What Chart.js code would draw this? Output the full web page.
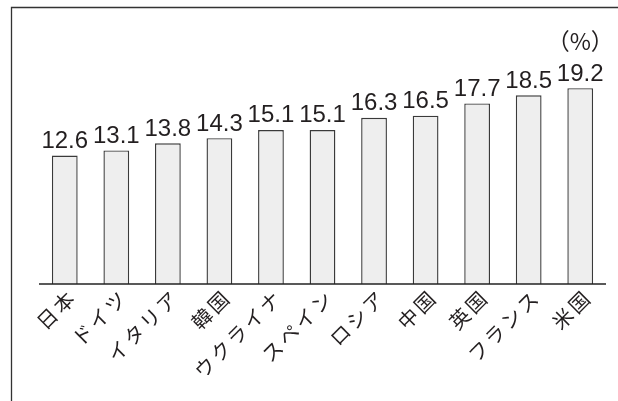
<!DOCTYPE html>
<html lang="ja">
<head>
  <meta charset="UTF-8">
  <title>Bar chart</title>
  <style>
    body { margin: 0; background: #fff; }
    .wrap { width: 618px; height: 401px; }
  </style>
</head>
<body>
  <div class="wrap">
    <canvas id="barChart" width="618" height="401"></canvas>
  </div>

  <script src="https://cdn.jsdelivr.net/npm/chart.js"></script>
  <script>
    // data
    const countries = ['日本', 'ドイツ', 'イタリア', '韓国', 'ウクライナ', 'スペイン', 'ロシア', '中国', '英国', 'フランス', '米国'];
    const values = [12.6, 13.1, 13.8, 14.3, 15.1, 15.1, 16.3, 16.5, 17.7, 18.5, 19.2];
    const unitLabel = '（%）';

    const textColor = '#231f20';

    // frame, baseline, value labels and rotated country names
    const decorations = {
      id: 'decorations',
      afterDraw(chart) {
        const c = chart.ctx;
        const xs = chart.scales.x;
        const ys = chart.scales.y;
        const area = chart.chartArea;

        c.save();
        // outer frame (left + top only)
        c.strokeStyle = '#333';
        c.lineWidth = 1.3;
        c.beginPath();
        c.moveTo(11.5, 401);
        c.lineTo(11.5, 7.5);
        c.lineTo(618, 7.5);
        c.stroke();

        // baseline
        const y0 = ys.getPixelForValue(0);
        c.strokeStyle = '#222';
        c.lineWidth = 1.5;
        c.beginPath();
        c.moveTo(area.left, y0);
        c.lineTo(area.right, y0);
        c.stroke();

        // values above bars
        c.fillStyle = textColor;
        c.font = '24px "Liberation Sans", Arial, sans-serif';
        c.textAlign = 'center';
        c.textBaseline = 'alphabetic';
        values.forEach((v, i) => {
          c.fillText(v.toFixed(1), xs.getPixelForValue(i), ys.getPixelForValue(v) - 7.5);
        });

        // unit
        c.font = '23px "Noto Sans CJK JP", sans-serif';
        c.fillText(unitLabel, xs.getPixelForValue(values.length - 1), 50);

        // country names, 45 degrees
        c.font = '20px "Noto Sans CJK JP", sans-serif';
        c.textAlign = 'right';
        c.textBaseline = 'middle';
        c.letterSpacing = '3px';
        countries.forEach((name, i) => {
          c.save();
          c.translate(xs.getPixelForValue(i) + 8, y0 + 9);
          c.rotate(-Math.PI / 4);
          c.fillText(name, 0, 0);
          c.restore();
        });
        c.restore();
      }
    };

    const ctx = document.getElementById('barChart').getContext('2d');
    const barChart = new Chart(ctx, {
      type: 'bar',
      data: {
        labels: countries,
        datasets: [{
          data: values,
          backgroundColor: '#eeeeee',
          borderColor: '#3a3a3a',
          borderWidth: 1.4,
          borderSkipped: 'bottom',
          barPercentage: 0.5,
          categoryPercentage: 1
        }]
      },
      options: {
        responsive: false,
        devicePixelRatio: 1,
        animation: false,
        layout: {
          padding: { left: 39, right: 12, top: 80, bottom: 117 }
        },
        plugins: {
          legend: { display: false },
          tooltip: { enabled: false }
        },
        scales: {
          x: { display: false },
          y: { display: false, min: 0, max: 20 }
        }
      },
      plugins: [decorations]
    });
  </script>
</body>
</html>
